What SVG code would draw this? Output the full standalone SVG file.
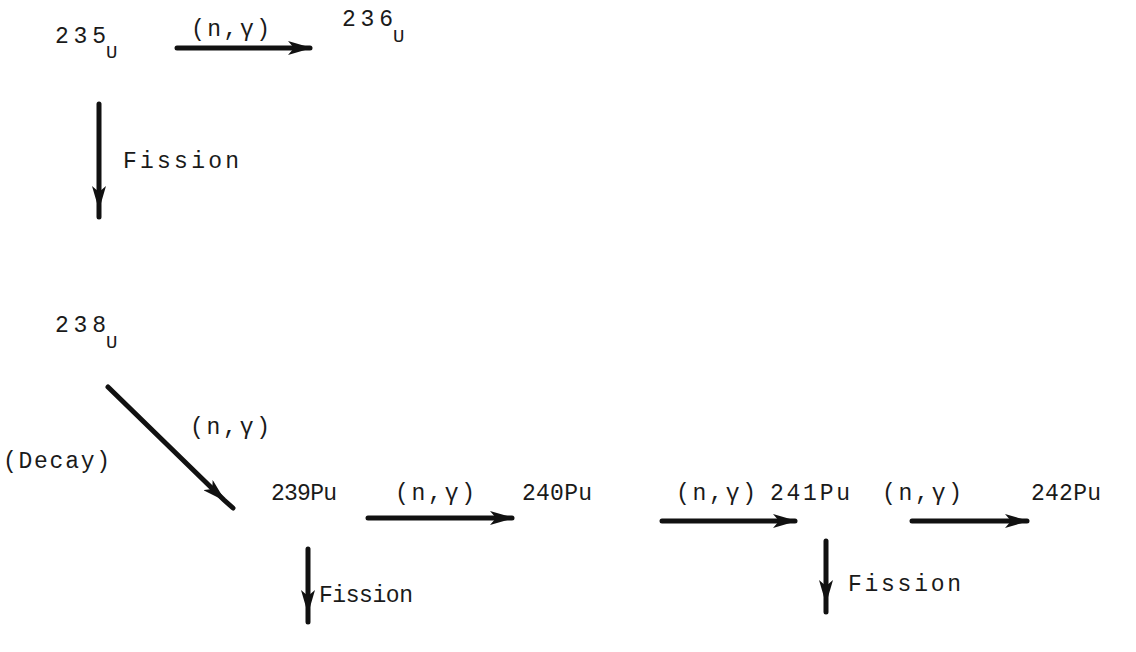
<svg xmlns="http://www.w3.org/2000/svg" width="1136" height="652" viewBox="0 0 1136 652">
<style>
text{font-family:"Liberation Mono","DejaVu Sans Mono",monospace;font-size:23px;fill:#1a1a1a}
.sub{font-size:19px}
.arr{stroke:#111;stroke-width:5;stroke-linecap:round;fill:none}
</style>
<defs>
<marker id="head" viewBox="0 0 24 14" refX="22" refY="7" markerWidth="24" markerHeight="14" markerUnits="userSpaceOnUse" orient="auto">
<path d="M0,0 L24,7 L0,14 L6,7 Z" fill="#111"/>
</marker>
</defs>
<rect width="1136" height="652" fill="#fff"/>
<g id="connectors">
<line class="arr" x1="177" y1="48" x2="310" y2="48" marker-end="url(#head)"/>
<path class="arr" d="M99,104 L99,208 L99,217" marker-mid="url(#head)"/>
<path class="arr" d="M108,387 L224,500 L233,508" marker-mid="url(#head)"/>
<line class="arr" x1="368" y1="518" x2="512" y2="518" marker-end="url(#head)"/>
<line class="arr" x1="662" y1="521" x2="795" y2="521" marker-end="url(#head)"/>
<line class="arr" x1="912" y1="521" x2="1027" y2="521" marker-end="url(#head)"/>
<path class="arr" d="M308,549 L308,612 L308,622" marker-mid="url(#head)"/>
<path class="arr" d="M826,541 L826,602 L826,612" marker-mid="url(#head)"/>
</g>
<g id="n235"><text x="55" y="43" textLength="51">235</text><text class="sub" x="106" y="58">U</text></g>
<g id="n236"><text x="342" y="26" textLength="51">236</text><text class="sub" x="393" y="42">U</text></g>
<g id="n238"><text x="55" y="332" textLength="51">238</text><text class="sub" x="106" y="348">U</text></g>
<g id="n239"><text x="271" y="500" textLength="66">239Pu</text></g>
<g id="n240"><text x="522" y="500" textLength="70">240Pu</text></g>
<g id="n241"><text x="770" y="500" textLength="80">241Pu</text></g>
<g id="n242"><text x="1031" y="500" textLength="70">242Pu</text></g>
<g id="labels">
<text x="191" y="36" textLength="79">(n,γ)</text>
<text x="123" y="168" textLength="116">Fission</text>
<text x="190" y="434" textLength="80">(n,γ)</text>
<text x="3" y="468" textLength="107">(Decay)</text>
<text x="395" y="500" textLength="80">(n,γ)</text>
<text x="676" y="500" textLength="80">(n,γ)</text>
<text x="882" y="500" textLength="80">(n,γ)</text>
<text x="319" y="602" textLength="94">Fission</text>
<text x="848" y="591" textLength="113">Fission</text>
</g>
</svg>
